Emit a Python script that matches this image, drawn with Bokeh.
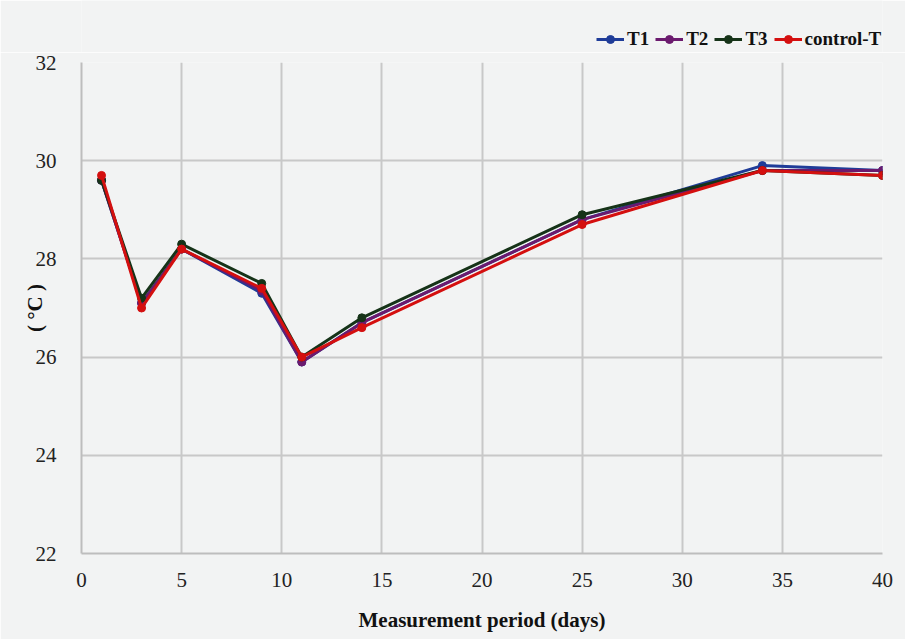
from bokeh.plotting import figure
from bokeh.layouts import column
from bokeh.models import Legend, LegendItem, FixedTicker, Range1d
from bokeh.embed import file_html
from bokeh.resources import INLINE

days = [1, 3, 5, 9, 11, 14, 25, 34, 40]
t1 = [29.6, 27.1, 28.2, 27.3, 25.9, 26.7, 28.8, 29.9, 29.8]
t2 = [29.6, 27.1, 28.2, 27.35, 25.9, 26.7, 28.8, 29.8, 29.8]
t3 = [29.6, 27.2, 28.3, 27.5, 26.0, 26.8, 28.9, 29.8, 29.7]
ctrl = [29.7, 27.0, 28.2, 27.4, 26.0, 26.6, 28.7, 29.8, 29.7]
names = ["T1", "T2", "T3", "control-T"]
colors = ["#1f3c98", "#6b1a6e", "#163318", "#d40f0f"]
x_ticks = [0, 5, 10, 15, 20, 25, 30, 35, 40]
y_ticks = [22, 24, 26, 28, 30, 32]

bg = "#f2f3f3"
W = 905
LEG_H = 52
MAIN_H = 587

# legend strip (its renderers use the same data but lie outside its visible range)
pl = figure(width=W, height=LEG_H, output_backend="svg", toolbar_location=None,
            x_range=Range1d(0, 40), y_range=Range1d(100, 101),
            x_axis_type=None, y_axis_type=None,
            background_fill_color=bg, border_fill_color=bg,
            min_border_left=0, min_border_right=0, min_border_top=0, min_border_bottom=0)
pl.outline_line_color = None
pl.grid.visible = False

# main chart
p = figure(width=W, height=MAIN_H, output_backend="svg", toolbar_location=None,
           x_range=Range1d(0, 40), y_range=Range1d(22, 32),
           background_fill_color=bg, border_fill_color=bg,
           min_border_left=81, min_border_right=23, min_border_bottom=86, min_border_top=10)
p.outline_line_color = None

for ax in (p.xaxis[0], p.yaxis[0]):
    ax.major_tick_line_color = None
    ax.minor_tick_line_color = None
    ax.axis_line_color = "#bdbdbd"
    ax.axis_line_width = 2
    ax.major_label_text_font = "Liberation Serif"
    ax.major_label_text_font_size = "21px"
    ax.major_label_text_color = "#222222"
    ax.axis_label_text_font = "Liberation Serif"
    ax.axis_label_text_font_style = "bold"
    ax.axis_label_text_font_size = "21px"
    ax.axis_label_text_color = "#111111"

p.xaxis.ticker = FixedTicker(ticks=x_ticks)
p.yaxis.ticker = FixedTicker(ticks=y_ticks)
p.xaxis.axis_label = "Measurement period (days)"
p.yaxis.axis_label = "( °C )"
p.xaxis.major_label_standoff = 13
p.yaxis.major_label_standoff = 19
p.xaxis.axis_label_standoff = 18
p.yaxis.axis_label_standoff = -14
p.grid.grid_line_color = "#c8c8c8"
p.grid.grid_line_width = 2

items = []
for name, ys, c in zip(names, [t1, t2, t3, ctrl], colors):
    p.line(days, ys, line_color=c, line_width=3)
    p.scatter(days, ys, size=8, fill_color=c, line_color=c)
    l1 = pl.line(days, ys, line_color=c, line_width=3)
    l2 = pl.scatter(days, ys, size=8, fill_color=c, line_color=c)
    items.append(LegendItem(label=name, renderers=[l1, l2]))

legend = Legend(items=items, orientation="horizontal", location=(515, 2),
                background_fill_alpha=0, border_line_color=None,
                label_text_font="Liberation Serif", label_text_font_style="bold",
                label_text_font_size="19px", label_text_color="#111111",
                glyph_width=28, spacing=6, label_standoff=3, padding=10, margin=0)
pl.add_layout(legend, "center")

layout = column(pl, p, spacing=0)
html = file_html(layout, INLINE)
open("out.html", "w").write(html)
